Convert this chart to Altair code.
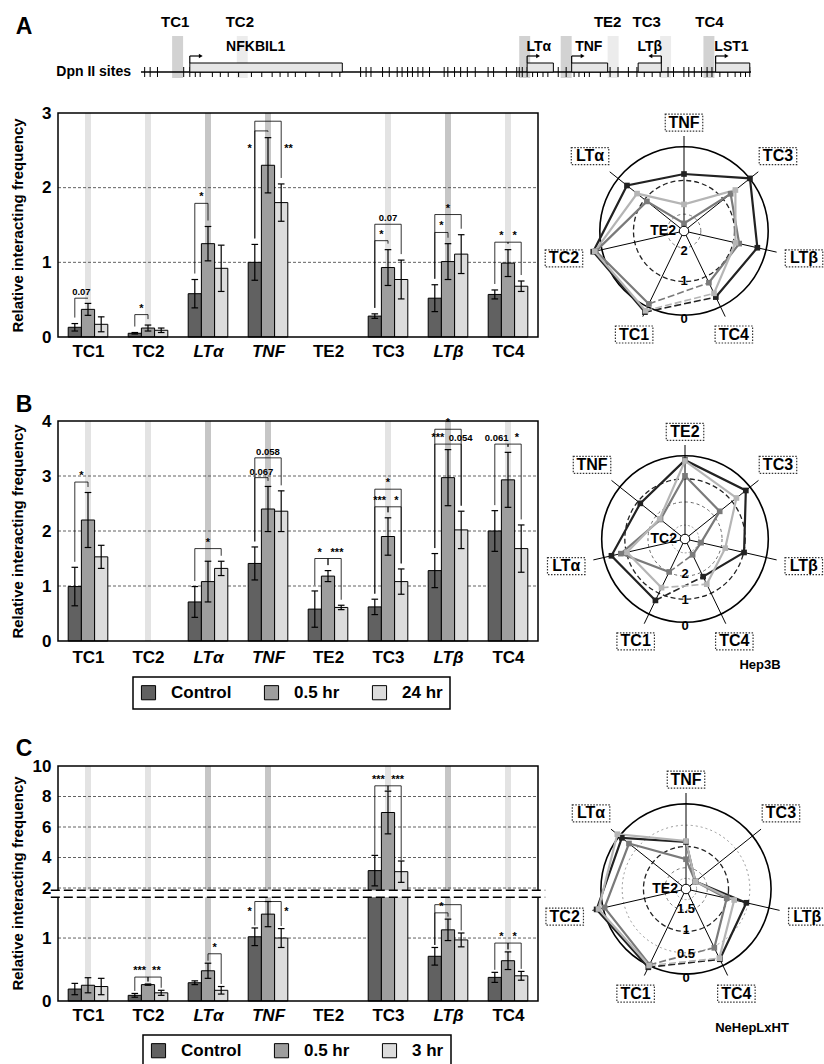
import json
import altair as alt
import pandas as pd

FONT = "Liberation Sans"
W, H = 824, 1064

# ======================= DATA =======================
genes = ["TC1", "TC2", "LTα", "TNF", "TE2", "TC3", "LTβ", "TC4"]
italic_genes = ["LTα", "TNF", "LTβ"]
stripe_genes = ["TC1", "TC2", "LTα", "TNF", "TC3", "LTβ", "TC4"]
dark_stripe_genes = ["LTα", "TNF", "LTβ"]

series_AB = ["Control", "0.5 hr", "24 hr"]
series_C = ["Control", "0.5 hr", "3 hr"]

# Panel A (means and s.e.)
A_control = [0.13, 0.05, 0.58, 1.00, None, 0.28, 0.52, 0.57]
A_control_err = [0.05, 0.01, 0.19, 0.24, None, 0.03, 0.18, 0.06]
A_05hr = [0.37, 0.12, 1.25, 2.30, None, 0.93, 1.01, 0.99]
A_05hr_err = [0.08, 0.04, 0.23, 0.37, None, 0.24, 0.24, 0.18]
A_24hr = [0.17, 0.09, 0.92, 1.80, None, 0.77, 1.11, 0.68]
A_24hr_err = [0.10, 0.03, 0.31, 0.25, None, 0.26, 0.26, 0.07]

# Panel B
B_control = [0.99, None, 0.71, 1.41, 0.58, 0.62, 1.28, 2.00]
B_control_err = [0.35, None, 0.28, 0.30, 0.33, 0.14, 0.31, 0.37]
B_05hr = [2.20, None, 1.08, 2.40, 1.18, 1.90, 2.97, 2.93]
B_05hr_err = [0.50, None, 0.37, 0.41, 0.10, 0.34, 0.51, 0.50]
B_24hr = [1.53, None, 1.32, 2.36, 0.61, 1.08, 2.02, 1.68]
B_24hr_err = [0.21, None, 0.13, 0.37, 0.04, 0.23, 0.34, 0.43]

# Panel C
C_control = [0.19, 0.09, 0.29, 1.02, None, 3.14, 0.71, 0.375]
C_control_err = [0.09, 0.03, 0.03, 0.14, None, 1.00, 0.14, 0.08]
C_05hr = [0.25, 0.26, 0.48, 1.38, None, 6.95, 1.13, 0.64]
C_05hr_err = [0.12, 0.01, 0.12, 0.20, None, 1.40, 0.17, 0.14]
C_3hr = [0.23, 0.13, 0.17, 1.00, None, 3.07, 0.97, 0.40]
C_3hr_err = [0.13, 0.04, 0.06, 0.15, None, 0.70, 0.11, 0.07]

# significance brackets: gene, from series, to series, height, text, label side, label y, label shift
A_brackets = [
    ("TC1", 0, 1, 0.52, "0.07", "mid", 0.52, 0.0),
    ("TC2", 0, 1, 0.30, "*", "mid", 0.30, 0.0),
    ("LTα", 0, 1, 1.79, "*", "mid", 1.79, 0.0),
    ("TNF", 0, 1, 2.76, "*", "left", 2.52, 0.0),
    ("TNF", 0, 2, 2.89, "**", "right", 2.52, 0.0),
    ("TC3", 0, 1, 1.29, "*", "mid", 1.29, 0.0),
    ("TC3", 0, 2, 1.51, "0.07", "mid", 1.51, 0.0),
    ("LTβ", 0, 1, 1.40, "*", "mid", 1.40, 0.0),
    ("LTβ", 0, 2, 1.64, "*", "mid", 1.64, 0.0),
    ("TC4", 0, 1, 1.27, "*", "mid", 1.27, 0.0),
    ("TC4", 1, 2, 1.27, "*", "mid", 1.27, 0.0),
]
B_brackets = [
    ("TC1", 0, 1, 2.89, "*", "mid", 2.89, 0.0),
    ("LTα", 0, 2, 1.68, "*", "mid", 1.68, 0.0),
    ("TNF", 0, 1, 2.97, "0.067", "mid", 2.97, 0.0),
    ("TNF", 0, 2, 3.33, "0.058", "mid", 3.33, 0.0),
    ("TE2", 0, 1, 1.50, "*", "mid", 1.50, -0.03),
    ("TE2", 1, 2, 1.50, "***", "mid", 1.50, 0.04),
    ("TC3", 0, 1, 2.44, "***", "mid", 2.44, -0.03),
    ("TC3", 1, 2, 2.44, "*", "mid", 2.44, 0.03),
    ("TC3", 0, 2, 2.76, "*", "mid", 2.76, 0.0),
    ("LTβ", 0, 1, 3.58, "***", "mid", 3.58, -0.06),
    ("LTβ", 1, 2, 3.58, "0.054", "mid", 3.58, 0.1),
    ("LTβ", 0, 2, 3.85, "*", "mid", 3.85, 0.0),
    ("TC4", 0, 1, 3.58, "0.061", "mid", 3.58, -0.08),
    ("TC4", 1, 2, 3.58, "*", "mid", 3.58, 0.04),
]
C_brackets = [
    ("TC2", 0, 1, 0.38, "***", "mid", 0.38, -0.03),
    ("TC2", 1, 2, 0.38, "**", "mid", 0.38, 0.03),
    ("LTα", 1, 2, 0.75, "*", "mid", 0.75, 0.0),
    ("TNF", 0, 1, 1.58, "*", "left", 1.42, 0.0),
    ("TNF", 1, 2, 1.58, "*", "right", 1.42, 0.0),
    ("TC3", 0, 1, 8.70, "***", "mid", 8.70, -0.05),
    ("TC3", 1, 2, 8.70, "***", "mid", 8.70, 0.05),
    ("LTβ", 0, 1, 1.40, "*", "mid", 1.40, 0.0),
    ("LTβ", 0, 2, 1.53, "*", "mid", 1.53, 0.0),
    ("TC4", 0, 1, 0.92, "*", "mid", 0.92, 0.0),
    ("TC4", 1, 2, 0.92, "*", "mid", 0.92, 0.0),
]

# radar charts: spokes clockwise from top, centre fragment, radial levels
radarA_spokes = ["TNF", "TC3", "LTβ", "TC4", "TC1", "TC2", "LTα"]
radarA_center = "TE2"
radarB_spokes = ["TE2", "TC3", "LTβ", "TC4", "TC1", "LTα", "TNF"]
radarB_center = "TC2"
radarC_spokes = ["TNF", "TC3", "LTβ", "TC4", "TC1", "TC2", "LTα"]
radarC_center = "TE2"
radarA_levels = [0, 1, 2]
radarA_level_text = ["0", "1", "2"]
radarB_levels = [0, 1, 2, 3]
radarB_level_text = ["0", "1", "2"]
radarC_levels = [0, 0.5, 1, 1.5, 1.75]
radarC_level_text = ["0", "0.5", "1", "1.5"]

# gene map (positions along the mapped region, 0-100)
map_dpn_sites = [0.6, 1.5, 2.7, 7.0, 8.0, 8.9, 9.7, 11.7, 13.0, 14.3, 16.0, 18.1, 19.8,
                 21.5, 22.8, 24.1, 25.3, 27.0, 29.2, 31.3, 32.6, 36.0, 36.9, 37.7, 39.6,
                 40.7, 42.0, 42.8, 43.7, 44.5, 45.4, 46.2, 47.3, 49.7, 50.3, 51.4, 52.4,
                 53.5, 54.8, 56.9, 57.8, 59.9, 61.6, 62.0, 62.5, 63.3, 64.2, 65.0, 65.9,
                 66.7, 68.4, 69.7, 71.0, 71.8, 72.7, 73.5, 75.3, 76.9, 78.2, 79.9, 81.3,
                 82.5, 83.8, 85.1, 86.4, 87.3, 89.0, 89.8, 90.7, 91.9, 92.8, 93.6, 94.9,
                 96.2, 97.4, 98.3, 99.1, 99.8]
map_genes = ["NFKBIL1", "LTα", "TNF", "LTβ", "LST1"]
map_gene_start = [8.0, 63.3, 70.6, 81.5, 94.2]
map_gene_end = [33.0, 67.6, 76.5, 85.3, 99.8]
map_gene_label_pos = [18.8, 65.2, 73.4, 83.4, 96.8]
map_gene_strand = [1, 1, 1, -1, 1]
map_fragments = ["TC1", "TC2", "TE2", "TC3", "TC4"]
map_fragment_pos = [5.6, 16.2, 76.5, 82.9, 93.2]
map_band_pos = [6.0, 16.6, 62.9, 69.7, 77.4, 86.0, 93.1]
map_band_dark = [True, False, True, True, False, False, True]

panel_letters = ["A", "B", "C"]
cell_lines = ["Hep3B", "NeHepLxHT"]

# ======================= STYLE / LAYOUT =======================
bar_colors = ["#616161", "#9e9e9e", "#dcdcdc"]
radar_colors = ["#222222", "#7a7a7a", "#b5b5b5"]
BAR_X = [58, 538]
STEP, HALF, CAP = 0.22, 0.11, 0.055

ital_idx = [genes.index(g) for g in italic_genes]
LABEL_EXPR = json.dumps(genes, ensure_ascii=False) + "[datum.value]"
ITAL_EXPR = "indexof(" + json.dumps(ital_idx) + ", datum.value) >= 0 ? 'italic' : 'normal'"


def bar_panel(means, errs, series, brackets, ydom, yrng, yvals, gridvals, axis_y,
              title_y, gap, label_pad, legend=None, breaks=None):
    xs = alt.Scale(domain=[-0.5, 7.5], range=BAR_X, nice=False, zero=False)
    ys = alt.Scale(domain=ydom, range=yrng, nice=False, zero=False)
    xaxis = alt.Axis(orient="bottom", offset=axis_y - H, values=list(range(len(genes))),
                     labelExpr=LABEL_EXPR, labelFontStyle={"expr": ITAL_EXPR},
                     grid=False, domain=False, ticks=False, labelFontSize=17,
                     labelFontWeight="bold", labelFont=FONT, labelColor="black",
                     labelPadding=label_pad, labelFlush=False, labelOverlap=False, title=None)
    yaxis = alt.Axis(orient="left", offset=-BAR_X[0], values=yvals, grid=False, domain=False,
                     ticks=False, labelFontSize=17, labelFontWeight="bold", labelFont=FONT,
                     labelColor="black", labelPadding=7, labelFlush=False, labelOverlap=False,
                     title="Relative interacting frequency", titleFontSize=15,
                     titleFontWeight="bold", titleFont=FONT, titleColor="black",
                     titleAngle=-90, titleX=-41, titleY=title_y, titleAlign="center",
                     titleBaseline="middle")

    def X(f):
        return alt.X(f, scale=xs, axis=xaxis)

    def Y(f):
        return alt.Y(f, scale=ys, axis=yaxis)

    rows = []
    for si, (m, e) in enumerate(zip(means, errs)):
        for gi, g in enumerate(genes):
            if m[gi] is None:
                continue
            rows.append(dict(gene=g, gi=gi, series=series[si], si=si, mean=m[gi], err=e[gi]))
    base = alt.Chart(pd.DataFrame(rows)).transform_calculate(
        xc=f"datum.gi + (datum.si - 1) * {STEP}",
        xl=f"datum.xc - {HALF}", xr=f"datum.xc + {HALF}",
        cl=f"datum.xc - {CAP}", cr=f"datum.xc + {CAP}",
        lo="datum.mean - datum.err", hi="datum.mean + datum.err", zero="0")

    stripe_df = pd.DataFrame([{"gi": genes.index(g), "dark": g in dark_stripe_genes,
                               "y0": ydom[0], "y1": ydom[-1]} for g in stripe_genes])
    stripes = alt.Chart(stripe_df).mark_rule(strokeWidth=6).encode(
        x=X("gi:Q"), y=Y("y0:Q"), y2="y1:Q",
        color=alt.condition("datum.dark", alt.value("#c6c6c6"), alt.value("#e3e3e3")))

    grid_df = pd.DataFrame({"v": gridvals, "x0": -0.5, "x1": 7.5})
    grid = alt.Chart(grid_df).mark_rule(color="#3a3a3a", strokeDash=[3, 2], strokeWidth=0.8).encode(
        x=X("x0:Q"), x2="x1:Q", y=Y("v:Q"))

    color = alt.Color("series:N", scale=alt.Scale(domain=series, range=bar_colors),
                      sort=series, legend=legend)
    bars = base.mark_rect(stroke="black", strokeWidth=1).encode(
        x=X("xl:Q"), x2="xr:Q", y=Y("zero:Q"), y2="mean:Q", color=color)
    err = base.mark_rule(color="black", strokeWidth=1.2).encode(x=X("xc:Q"), y=Y("lo:Q"), y2="hi:Q")
    cap_hi = base.mark_rule(color="black", strokeWidth=1.2).encode(x=X("cl:Q"), x2="cr:Q", y=Y("hi:Q"))
    cap_lo = base.mark_rule(color="black", strokeWidth=1.2).encode(x=X("cl:Q"), x2="cr:Q", y=Y("lo:Q"))

    br_rows = []
    for (g, s1, s2, h, text, side, ly, shift) in brackets:
        gi = genes.index(g)
        b1 = means[s1][gi] + errs[s1][gi] + gap
        b2 = means[s2][gi] + errs[s2][gi] + gap
        br_rows.append(dict(gi=gi, s1=s1, s2=s2, h=h, b1=min(b1, h), b2=min(b2, h),
                            text=text, side=side, ly=ly, shift=shift,
                            fs=11 if set(text) == {"*"} else 9.5))
    bb = alt.Chart(pd.DataFrame(br_rows)).transform_calculate(
        xa=f"datum.gi + (datum.s1 - 1) * {STEP}", xb=f"datum.gi + (datum.s2 - 1) * {STEP}",
        xm="(datum.xa + datum.xb) / 2 + datum.shift")
    leg_a = bb.mark_rule(color="black", strokeWidth=0.8).encode(x=X("xa:Q"), y=Y("b1:Q"), y2="h:Q")
    leg_b = bb.mark_rule(color="black", strokeWidth=0.8).encode(x=X("xb:Q"), y=Y("b2:Q"), y2="h:Q")
    top = bb.mark_rule(color="black", strokeWidth=0.8).encode(x=X("xa:Q"), x2="xb:Q", y=Y("h:Q"))
    lab_mid = bb.transform_filter("datum.side == 'mid'").mark_text(
        fontWeight="bold", baseline="bottom", dy=-1).encode(
        x=X("xm:Q"), y=Y("ly:Q"), text="text:N", size=alt.Size("fs:Q", scale=None))
    lab_left = bb.transform_filter("datum.side == 'left'").mark_text(
        fontWeight="bold", align="right", dx=-3).encode(
        x=X("xa:Q"), y=Y("ly:Q"), text="text:N", size=alt.Size("fs:Q", scale=None))
    lab_right = bb.transform_filter("datum.side == 'right'").mark_text(
        fontWeight="bold", align="left", dx=3).encode(
        x=X("xb:Q"), y=Y("ly:Q"), text="text:N", size=alt.Size("fs:Q", scale=None))

    frame_df = pd.DataFrame([{"x0": -0.5, "x1": 7.5, "y0": ydom[0], "y1": ydom[-1]}])
    frame = alt.Chart(frame_df).mark_rect(filled=False, color="black", strokeWidth=1.5).encode(
        x=X("x0:Q"), x2="x1:Q", y=Y("y0:Q"), y2="y1:Q")

    layers = [stripes, grid, bars, err, cap_hi, cap_lo, leg_a, leg_b, top,
              lab_mid, lab_left, lab_right, frame]
    if breaks:
        bdf = pd.DataFrame([{"x0": -0.62, "x1": 7.62, "lo": breaks[0], "hi": breaks[1]}])
        band = alt.Chart(bdf).mark_rect(color="white").encode(
            x=X("x0:Q"), x2="x1:Q", y=Y("lo:Q"), y2="hi:Q")
        l1 = alt.Chart(bdf).mark_rule(color="black", strokeDash=[9, 4], strokeWidth=1.4).encode(
            x=X("x0:Q"), x2="x1:Q", y=Y("lo:Q"))
        l2 = alt.Chart(bdf).mark_rule(color="black", strokeDash=[9, 4], strokeWidth=1.4).encode(
            x=X("x0:Q"), x2="x1:Q", y=Y("hi:Q"))
        layers += [band, l1, l2]
    return alt.layer(*layers)


def radar_panel(spokes, center, series, values, vmax, clip, cx, cy, R,
                levels, level_text, ring_styles):
    xs = alt.Scale(domain=[-1, 1], range=[cx - R, cx + R], nice=False, zero=False)
    ys = alt.Scale(domain=[-1, 1], range=[cy + R, cy - R], nice=False, zero=False)

    def X(f):
        return alt.X(f, scale=xs, axis=None)

    def Y(f):
        return alt.Y(f, scale=ys, axis=None)

    n = len(spokes)
    rows = []
    for si, vals in enumerate(values):
        for k, g in enumerate(spokes):
            v = vals[genes.index(g)]
            if v is None:
                continue
            rows.append(dict(series=series[si], si=si, gene=g, k=k, ord=genes.index(g), v=v))
    pts = alt.Chart(pd.DataFrame(rows)).transform_calculate(
        th=f"datum.k * 2 * PI / {n}",
        rn=f"({vmax} - min(datum.v, {clip})) / {vmax}",
        px="datum.rn * sin(datum.th)", py="datum.rn * cos(datum.th)")
    col = alt.Color("series:N", scale=alt.Scale(domain=series, range=radar_colors), legend=None)

    layers = []
    for lvl, (dash, colr, wdt) in zip(levels, ring_styles):
        extra = {"strokeDash": dash} if dash else {}
        ring = alt.Chart(pd.DataFrame([{"lvl": lvl, "z": 0}])).transform_calculate(
            sz=f"PI * pow({R} * ({vmax} - datum.lvl) / {vmax}, 2)").mark_point(
            shape="circle", filled=False, opacity=1, color=colr, strokeWidth=wdt, **extra).encode(
            x=X("z:Q"), y=Y("z:Q"), size=alt.Size("sz:Q", scale=None))
        layers.append(ring)

    sp = alt.Chart(pd.DataFrame({"gene": spokes, "k": list(range(n))})).transform_calculate(
        th=f"datum.k * 2 * PI / {n}", sx="sin(datum.th)", sy="cos(datum.th)", z="0")
    layers.append(sp.mark_rule(color="black", strokeWidth=1).encode(
        x=X("z:Q"), x2="sx:Q", y=Y("z:Q"), y2="sy:Q"))

    layers.append(pts.mark_line(strokeWidth=2.2).encode(
        x=X("px:Q"), y=Y("py:Q"), color=col, order="ord:Q"))
    layers.append(pts.transform_filter(
        f"datum.gene == '{genes[0]}' || datum.gene == '{genes[-1]}'").mark_line(
        strokeWidth=1.6, strokeDash=[7, 3]).encode(
        x=X("px:Q"), y=Y("py:Q"), color=col, order="ord:Q"))
    layers.append(pts.mark_point(shape="square", filled=True, size=32, opacity=1).encode(
        x=X("px:Q"), y=Y("py:Q"), color=col))

    cdf = pd.DataFrame([{"z": 0, "label": center}])
    layers.append(alt.Chart(cdf).mark_point(shape="circle", filled=True, fill="white",
                                            stroke="black", strokeWidth=1, size=90, opacity=1).encode(
        x=X("z:Q"), y=Y("z:Q")))
    layers.append(alt.Chart(cdf).mark_text(align="right", dx=-8, fontSize=14, fontWeight="bold").encode(
        x=X("z:Q"), y=Y("z:Q"), text="label:N"))

    ldf = pd.DataFrame({"lvl": levels[:len(level_text)], "text": level_text})
    layers.append(alt.Chart(ldf).transform_calculate(
        ry=f"-max({R} * ({vmax} - datum.lvl) / {vmax} - 7, 20) / {R}", z="0").mark_text(
        fontSize=13, fontWeight="bold").encode(x=X("z:Q"), y=Y("ry:Q"), text="text:N"))

    lab = sp.transform_calculate(
        rl="1.14 + 0.16 * abs(sin(datum.th))",
        lx="datum.rl * sin(datum.th)", ly="datum.rl * cos(datum.th)",
        hw=f"(10.5 * length(datum.gene) + 6) / 2 / {R}", hh=f"8.5 / {R}",
        bx0="datum.lx - datum.hw", bx1="datum.lx + datum.hw",
        by0="datum.ly - datum.hh", by1="datum.ly + datum.hh")
    layers.append(lab.mark_rect(fill="white", stroke="#333333", strokeDash=[1.5, 1.5],
                                strokeWidth=1.2).encode(
        x=X("bx0:Q"), x2="bx1:Q", y=Y("by0:Q"), y2="by1:Q"))
    layers.append(lab.mark_text(fontSize=16, fontWeight="bold", color="black").encode(
        x=X("lx:Q"), y=Y("ly:Q"), text="gene:N"))
    return alt.layer(*layers)


def map_panel():
    xs = alt.Scale(domain=[0, 100], range=[141, 751], nice=False, zero=False)

    def X(f):
        return alt.X(f, scale=xs, axis=None)

    bands = alt.Chart(pd.DataFrame({"p": map_band_pos, "dark": map_band_dark})).transform_calculate(
        p0="datum.p - 0.9", p1="datum.p + 0.9").mark_rect().encode(
        x=X("p0:Q"), x2="p1:Q", y=alt.value(36), y2=alt.value(78),
        color=alt.condition("datum.dark", alt.value("#d2d2d2"), alt.value("#ececec")))
    line = alt.Chart(pd.DataFrame([{"a": 0, "b": 100}])).mark_rule(color="black", strokeWidth=1.5).encode(
        x=X("a:Q"), x2="b:Q", y=alt.value(72))
    sites = alt.Chart(pd.DataFrame({"p": map_dpn_sites})).mark_rule(color="black", strokeWidth=1).encode(
        x=X("p:Q"), y=alt.value(67), y2=alt.value(77))
    gdf = pd.DataFrame({"name": map_genes, "s": map_gene_start, "e": map_gene_end,
                        "lp": map_gene_label_pos, "strand": map_gene_strand})
    boxes = alt.Chart(gdf).mark_rect(fill="#e6e6e6", stroke="black", strokeWidth=1).encode(
        x=X("s:Q"), x2="e:Q", y=alt.value(63), y2=alt.value(72))
    ab = alt.Chart(gdf).transform_calculate(
        tss="datum.strand > 0 ? datum.s : datum.e", tip="datum.tss + datum.strand * 1.8")
    arr_v = ab.mark_rule(color="black", strokeWidth=1.2).encode(
        x=X("tss:Q"), y=alt.value(56), y2=alt.value(63))
    arr_h = ab.mark_rule(color="black", strokeWidth=1.2).encode(
        x=X("tss:Q"), x2="tip:Q", y=alt.value(56))
    head_r = ab.transform_filter("datum.strand > 0").mark_point(
        shape="triangle-right", filled=True, size=20, color="black", opacity=1).encode(
        x=X("tip:Q"), y=alt.value(56))
    head_l = ab.transform_filter("datum.strand < 0").mark_point(
        shape="triangle-left", filled=True, size=20, color="black", opacity=1).encode(
        x=X("tip:Q"), y=alt.value(56))
    glab = alt.Chart(gdf).mark_text(fontSize=14, fontWeight="bold").encode(
        x=X("lp:Q"), y=alt.value(47), text="name:N")
    flab = alt.Chart(pd.DataFrame({"name": map_fragments, "p": map_fragment_pos})).mark_text(
        fontSize=15, fontWeight="bold").encode(x=X("p:Q"), y=alt.value(22), text="name:N")
    dpn = alt.Chart(pd.DataFrame([{"a": 0, "t": "Dpn II sites"}])).mark_text(
        fontSize=14, fontWeight="bold", align="right", dx=-10).encode(
        x=X("a:Q"), y=alt.value(72), text="t:N")
    return alt.layer(bands, line, sites, boxes, arr_v, arr_h, head_r, head_l, glab, flab, dpn)


def legend_at(x, y):
    return alt.Legend(orient="none", legendX=x, legendY=y, direction="horizontal", title=None,
                      symbolType="square", symbolSize=200, symbolStrokeColor="black",
                      symbolStrokeWidth=1, symbolOpacity=1, labelFontSize=17,
                      labelFontWeight="bold", labelFont=FONT, labelColor="black",
                      labelOffset=14, columnPadding=30, padding=7, strokeColor="black",
                      fillColor="white", labelLimit=200)


barA = bar_panel([A_control, A_05hr, A_24hr], [A_control_err, A_05hr_err, A_24hr_err],
                 series_AB, A_brackets, [0, 3], [337, 113], [0, 1, 2, 3], [1, 2],
                 337, 225, 0.08, 6)
barB = bar_panel([B_control, B_05hr, B_24hr], [B_control_err, B_05hr_err, B_24hr_err],
                 series_AB, B_brackets, [0, 4], [641, 421], [0, 1, 2, 3, 4], [1, 2, 3],
                 641, 531, 0.1, 8, legend=legend_at(133, 677))
barC = bar_panel([C_control, C_05hr, C_3hr], [C_control_err, C_05hr_err, C_3hr_err],
                 series_C, C_brackets, [0, 1.62, 2, 10], [1001, 899, 888, 766],
                 [0, 1, 2, 4, 6, 8, 10], [1, 2, 4, 6, 8], 1001, 883, 0.04, 6,
                 legend=legend_at(143, 1035), breaks=(1.68, 1.92))

ringA = [(None, "black", 1.6), ([5, 3], "#222222", 1.3), ([3, 3], "#777777", 1)]
ringB = [(None, "black", 1.6), ([5, 3], "#222222", 1.3), ([3, 3], "#666666", 1), ([2, 2], "#999999", 1)]
ringC = [(None, "black", 1.6), ([2, 3], "#999999", 1), ([5, 3], "#222222", 1.3),
         ([3, 3], "#777777", 1), ([2, 2], "#999999", 1)]

radarA = radar_panel(radarA_spokes, radarA_center, series_AB, [A_control, A_05hr, A_24hr],
                     2.5, 2.45, 684, 231, 95, radarA_levels, radarA_level_text, ringA)
radarB = radar_panel(radarB_spokes, radarB_center, series_AB, [B_control, B_05hr, B_24hr],
                     3.6, 3.5, 685, 539, 94, radarB_levels, radarB_level_text, ringB)
radarC = radar_panel(radarC_spokes, radarC_center, series_C, [C_control, C_05hr, C_3hr],
                     2.0, 1.75, 686, 889, 96, radarC_levels, radarC_level_text, ringC)

letters = alt.Chart(pd.DataFrame({"t": panel_letters, "px": [24, 24, 24], "py": [27, 405, 749]})).mark_text(
    fontSize=23, fontWeight="bold").encode(
    x=alt.X("px:Q", scale=None), y=alt.Y("py:Q", scale=None), text="t:N")
cells = alt.Chart(pd.DataFrame({"t": cell_lines, "px": [760, 752], "py": [665, 1028]})).mark_text(
    fontSize=13, fontWeight="bold").encode(
    x=alt.X("px:Q", scale=None), y=alt.Y("py:Q", scale=None), text="t:N")

chart = alt.layer(map_panel(), barA, radarA, barB, radarB, barC, radarC, letters, cells).resolve_scale(
    x="independent", y="independent", color="independent", size="independent"
).properties(
    width=W, height=H, autosize=alt.AutoSizeParams(type="none"), padding=0
).configure(font=FONT).configure_view(stroke="transparent").configure_legend(strokeWidth=1.5)

chart.save("out.html", embed_options={"renderer": "svg", "actions": False})
